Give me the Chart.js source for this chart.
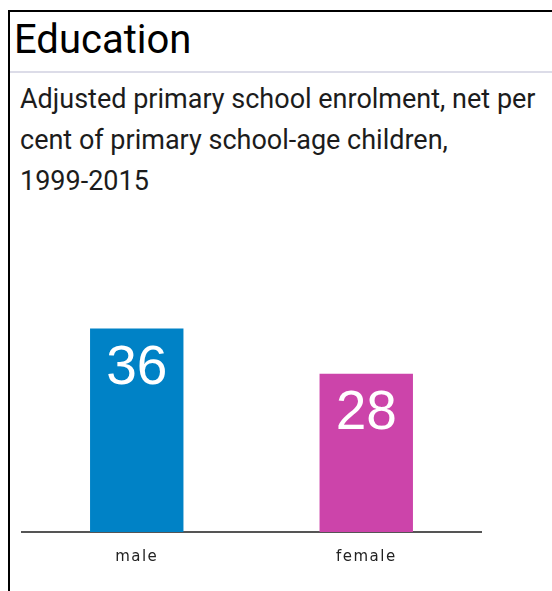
<!DOCTYPE html>
<html>
<head>
<meta charset="utf-8">
<script src="https://cdn.jsdelivr.net/npm/chart.js@4"></script>
<style>
  html, body { margin: 0; padding: 0; background: #fff; }
  body { width: 552px; height: 591px; position: relative; overflow: hidden; }
  #box { position: absolute; left: 8px; top: 10px; width: 700px; height: 700px;
         border-left: 2px solid #000; border-top: 2px solid #000; }
  #title { position: absolute; left: 14px; top: 20px; font: 40px Roboto, sans-serif;
           line-height: 40px; color: #000; white-space: nowrap; }
  #sep { position: absolute; left: 10px; top: 71px; width: 560px; height: 2px; background: #dcdce8; }
  #sub { position: absolute; left: 20px; top: 79px; font: 27px Roboto, sans-serif;
         line-height: 41px; color: #1c1c1c; white-space: nowrap; }
  #wrap { position: absolute; left: 0; top: 200px; width: 552px; height: 391px; }
</style>
</head>
<body>
<div id="box"></div>
<div id="title">Education</div>
<div id="sep"></div>
<div id="sub">Adjusted primary school enrolment, net per<br>cent of primary school-age children,<br>1999-2015</div>
<div id="wrap"><canvas id="c" width="552" height="391"></canvas></div>
<script>
const categories = ["male", "female"];
const values = [36, 28];
const barColors = ["#0082c6", "#cc44aa"];

const valueLabels = {
  id: 'valueLabels',
  beforeDraw(chart) { chart.ctx.letterSpacing = '1.5px'; },
  afterDatasetsDraw(chart) {
    const ctx = chart.ctx;
    ctx.save();
    ctx.letterSpacing = '0px';
    ctx.font = '55px "Liberation Sans", Arial, sans-serif';
    ctx.fillStyle = '#fff';
    ctx.textAlign = 'center';
    ctx.textBaseline = 'alphabetic';
    chart.getDatasetMeta(0).data.forEach((bar, i) => {
      ctx.fillText(String(values[i]), bar.x, bar.y + 55);
    });
    ctx.restore();
  }
};

new Chart(document.getElementById('c'), {
  type: 'bar',
  data: {
    labels: categories,
    datasets: [{ data: values, backgroundColor: barColors, borderWidth: 0,
                 categoryPercentage: 1, barPercentage: 0.407 }]
  },
  options: {
    responsive: false,
    animation: false,
    devicePixelRatio: 1,
    layout: { padding: { left: 22, right: 71, top: 49.5, bottom: 0 } },
    plugins: { legend: { display: false }, tooltip: { enabled: false }, title: { display: false } },
    scales: {
      y: { display: false, min: 0, max: 50 },
      x: {
        grid: { display: false, drawTicks: false },
        border: { display: true, color: '#555', width: 2 },
        ticks: { color: '#222', padding: 16, font: { family: '"DejaVu Sans", sans-serif', size: 15 } },
        afterFit(scale) { scale.height = 59; }
      }
    }
  },
  plugins: [valueLabels]
});
</script>
</body>
</html>
